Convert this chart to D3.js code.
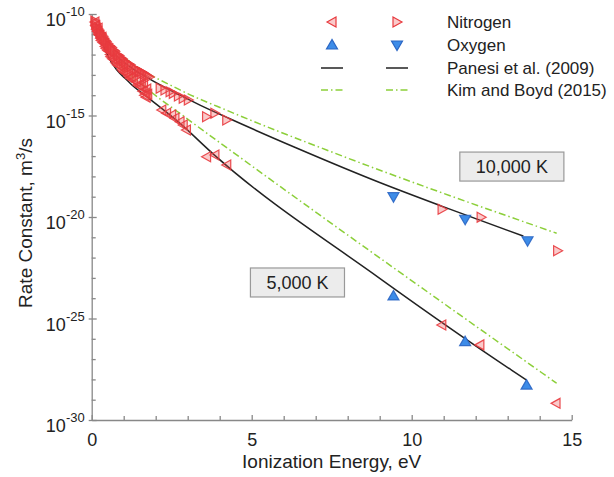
<!DOCTYPE html>
<html>
<head>
<meta charset="utf-8">
<script src="https://cdn.jsdelivr.net/npm/d3@7"></script>
<style>
    body { margin: 0; background: #fff; }
    svg { display: block; font-family: "Liberation Sans", Arial, Helvetica, sans-serif; }
</style>
</head>
<body>
<svg id="chart" width="614" height="477"></svg>
<script>
// --- Data: [ionization energy (eV), log10 rate constant (m^3/s)] ---
const nitrogen5000 = [
    [0.1, -10.4], [0.12, -10.55], [0.15, -10.75], [0.18, -10.85], [0.2, -10.7],
    [0.22, -11.0], [0.25, -11.05], [0.28, -11.2], [0.3, -11.3], [0.32, -11.15],
    [0.35, -11.4], [0.4, -11.45], [0.42, -11.6], [0.45, -11.7], [0.5, -11.8],
    [0.55, -11.85], [0.58, -12.0], [0.6, -12.1], [0.65, -12.2], [0.7, -12.25],
    [0.75, -12.4], [0.8, -12.5], [0.85, -12.55], [0.9, -12.6], [0.95, -12.75],
    [1.0, -12.85], [1.05, -12.9], [1.1, -12.95], [1.15, -13.05], [1.2, -13.15],
    [1.25, -13.1], [1.3, -13.25], [1.4, -13.35], [1.45, -13.5], [1.5, -13.55],
    [1.55, -13.6], [1.6, -13.8], [1.62, -13.4], [1.65, -14.0], [1.68, -13.9],
    [1.7, -14.1], [1.72, -13.7], [1.75, -13.95],
    [2.19, -14.73], [2.34, -14.89], [2.5, -14.98], [2.6, -15.14],
    [2.76, -15.31], [2.86, -15.47], [2.96, -15.71], [3.59, -17.03], [3.85, -16.95],
    [4.22, -17.44], [10.94, -25.32], [12.13, -26.3], [14.51, -29.18],
];
const nitrogen10000 = [
    [0.1, -10.35], [0.12, -10.45], [0.15, -10.6], [0.18, -10.7], [0.22, -10.8],
    [0.25, -10.9], [0.28, -10.95], [0.3, -11.0], [0.35, -11.1], [0.38, -11.2],
    [0.42, -11.3], [0.45, -11.35], [0.5, -11.45], [0.55, -11.55], [0.58, -11.6],
    [0.62, -11.65], [0.65, -11.75], [0.7, -11.8], [0.72, -11.85], [0.8, -12.0],
    [0.85, -12.05], [0.9, -12.15], [0.95, -12.2], [1.0, -12.3], [1.05, -12.35],
    [1.1, -12.45], [1.15, -12.45], [1.2, -12.5], [1.25, -12.6], [1.35, -12.7],
    [1.4, -12.75], [1.45, -12.8], [1.5, -12.85], [1.55, -12.85], [1.6, -12.9],
    [1.65, -12.95], [1.7, -13.0], [1.75, -13.05], [1.8, -13.1],
    [2.14, -13.66], [2.29, -13.74], [2.45, -13.83], [2.55, -13.91], [2.71, -14.04],
    [2.86, -14.15], [3.02, -14.24], [3.59, -15.06], [3.85, -14.89], [4.22, -15.22],
    [10.95, -19.62], [12.17, -20.01], [14.56, -21.66],
];
const oxygen5000 = [[9.43, -23.89], [11.67, -26.14], [13.59, -28.28]];
const oxygen10000 = [[9.43, -19.0], [11.67, -20.11], [13.62, -21.17]];

const panesi5000 = [
    [0.12, -10.5], [0.47, -11.94], [1.2, -13.41], [1.72, -14.07], [2.76, -15.39],
    [3.8, -16.9], [9.0, -23.02], [13.12, -27.54], [13.59, -28.03],
];
const panesi10000 = [
    [0.12, -10.45], [0.4, -11.3], [0.8, -12.1], [1.2, -12.6], [1.75, -13.15],
    [2.76, -14.0], [3.4, -14.5], [4.3, -15.15], [6.4, -16.6], [9.0, -18.3],
    [11.0, -19.5], [13.49, -20.94],
];
const kimBoyd5000 = [
    [0.15, -10.6], [0.6, -11.9], [1.72, -13.66], [2.76, -14.9], [4.32, -16.7],
    [14.53, -28.19],
];
const kimBoyd10000 = [
    [0.15, -10.55], [0.5, -11.4], [0.99, -12.1], [2.76, -13.74], [4.32, -14.81],
    [7.34, -16.7], [14.53, -20.8],
];

const xTickValues = d3.range(0, 16);
const xTickLabels = [0, 5, 10, 15];
const yTickExponents = d3.range(-30, -9);
const yLabelExponents = [-10, -15, -20, -25, -30];
const legendLabels = ["Nitrogen", "Oxygen", "Panesi et al. (2009)", "Kim and Boyd (2015)"];
const boxLabels = [
    { text: "10,000 K", e: 13.13, k: -17.54 },
    { text: "5,000 K", e: 6.43, k: -23.25 },
];

// --- Colours ---
const axisColor = "#888";
const textColor = "#222";
const redStroke = "#e83a3e";
const redFill = "#f05050";
const blueStroke = "#2b66c4";
const blueFill = "#3d8ce8";
const lineColor = "#222";
const greenColor = "#8ccf3a";

// --- Scales ---
const svg = d3.select("#chart");
const x = d3.scaleLinear().domain([0, 15]).range([91.7, 571.7]);
const y = d3.scaleLog().domain([1e-30, 1e-10]).range([420, 14]);
const px = (d) => x(d[0]);
const py = (d) => y(Math.pow(10, d[1]));

// --- Axes ---
const xAxis = svg
    .append("g")
    .attr("transform", `translate(0,${y(1e-30)})`)
    .call(
        d3
            .axisBottom(x)
            .tickValues(xTickValues)
            .tickSize(-4)
            .tickSizeOuter(0)
            .tickPadding(13)
            .tickFormat((d) => (xTickLabels.includes(d) ? d : "")),
    );

xAxis.selectAll(".tick line").filter((d) => xTickLabels.includes(d)).attr("y2", -5);

const yAxis = svg
    .append("g")
    .attr("transform", `translate(${x(0)},0)`)
    .call(
        d3
            .axisLeft(y)
            .tickValues(yTickExponents.map((e) => Math.pow(10, e)))
            .tickSize(-4)
            .tickSizeOuter(0)
            .tickFormat(""),
    );

yAxis
    .selectAll(".tick line")
    .filter((d) => yLabelExponents.includes(Math.round(Math.log10(d))))
    .attr("x1", -3)
    .attr("x2", 5);

svg.selectAll(".domain, .tick line")
    .attr("stroke", axisColor)
    .attr("stroke-width", 1.3);

xAxis.selectAll(".tick text")
    .attr("fill", textColor)
    .attr("font-size", 18)
    .attr("font-family", null);

// y tick labels as 10 with a superscript exponent
const yLabels = svg
    .append("g")
    .selectAll("text")
    .data(yLabelExponents)
    .enter()
    .append("text")
    .attr("x", x(0) - 7)
    .attr("y", (e) => y(Math.pow(10, e)) + 12)
    .attr("text-anchor", "end")
    .attr("fill", textColor)
    .attr("font-size", 18);

yLabels.append("tspan").text("10");
yLabels
    .append("tspan")
    .attr("dy", -10)
    .attr("font-size", 13)
    .text((e) => String(e));

// --- Axis titles ---
svg.append("text")
    .attr("x", (x(0) + x(15)) / 2)
    .attr("y", 468)
    .attr("text-anchor", "middle")
    .attr("fill", textColor)
    .attr("font-size", 19)
    .text("Ionization Energy, eV");

const yTitle = svg
    .append("text")
    .attr("transform", `translate(32,223) rotate(-90)`)
    .attr("text-anchor", "middle")
    .attr("fill", textColor)
    .attr("font-size", 19);
yTitle.append("tspan").text("Rate Constant, m");
yTitle.append("tspan").attr("dy", -7).attr("font-size", 13).text("3");
yTitle.append("tspan").attr("dy", 7).text("/s");

// --- Lines ---
const line = d3.line().x(px).y(py).curve(d3.curveMonotoneX);

const lineGroup = svg.append("g").attr("fill", "none");

[panesi5000, panesi10000].forEach((data) => {
    lineGroup.append("path")
        .attr("d", line(data))
        .attr("stroke", lineColor)
        .attr("stroke-width", 1.5);
});

[kimBoyd5000, kimBoyd10000].forEach((data) => {
    lineGroup.append("path")
        .attr("d", line(data))
        .attr("stroke", greenColor)
        .attr("stroke-width", 1.5)
        .attr("stroke-dasharray", "7,3,1.5,3");
});

// --- Markers ---
const triangles = {
    left: "M-5,0L4,-5L4,5Z",
    right: "M5,0L-4,-5L-4,5Z",
    up: "M0,-5.5L-5.5,4L5.5,4Z",
    down: "M0,5.5L-5.5,-4L5.5,-4Z",
};

function drawMarkers(data, shape, fill, stroke, fillOpacity) {
    svg.append("g")
        .selectAll("path")
        .data(data)
        .enter()
        .append("path")
        .attr("transform", (d) => `translate(${px(d)},${py(d)})`)
        .attr("d", triangles[shape])
        .attr("fill", fill)
        .attr("fill-opacity", fillOpacity)
        .attr("stroke", stroke)
        .attr("stroke-opacity", 0.9)
        .attr("stroke-width", 1.2);
}

drawMarkers(nitrogen5000, "left", redFill, redStroke, 0.3);
drawMarkers(nitrogen10000, "right", redFill, redStroke, 0.3);
drawMarkers(oxygen5000, "up", blueFill, blueStroke, 1);
drawMarkers(oxygen10000, "down", blueFill, blueStroke, 1);

// --- Temperature boxes ---
boxLabels.forEach((b) => {
    const g = svg.append("g");
    const t = g.append("text")
        .attr("x", x(b.e))
        .attr("y", py([b.e, b.k]) + 6)
        .attr("text-anchor", "middle")
        .attr("fill", textColor)
        .attr("font-size", 18)
        .text(b.text);
    const bb = t.node().getBBox();
    g.insert("rect", "text")
        .attr("x", bb.x - 16)
        .attr("y", bb.y - 5)
        .attr("width", bb.width + 32)
        .attr("height", bb.height + 9)
        .attr("fill", "#ececec")
        .attr("stroke", "#999")
        .attr("stroke-width", 1.2);
});

// --- Legend ---
const legendRowY = [22, 45, 68, 90];
const legendColX = [332, 397];
const legend = svg.append("g");

legend.append("path").attr("transform", `translate(${legendColX[0]},${legendRowY[0]})`)
    .attr("d", triangles.left).attr("fill", redFill).attr("fill-opacity", 0.3)
    .attr("stroke", redStroke).attr("stroke-width", 1.2);
legend.append("path").attr("transform", `translate(${legendColX[1]},${legendRowY[0]})`)
    .attr("d", triangles.right).attr("fill", redFill).attr("fill-opacity", 0.3)
    .attr("stroke", redStroke).attr("stroke-width", 1.2);
legend.append("path").attr("transform", `translate(${legendColX[0]},${legendRowY[1]})`)
    .attr("d", triangles.up).attr("fill", blueFill).attr("stroke", blueStroke).attr("stroke-width", 1.2);
legend.append("path").attr("transform", `translate(${legendColX[1]},${legendRowY[1]})`)
    .attr("d", triangles.down).attr("fill", blueFill).attr("stroke", blueStroke).attr("stroke-width", 1.2);

legendColX.forEach((cx) => {
    legend.append("line")
        .attr("x1", cx - 11).attr("x2", cx + 11)
        .attr("y1", legendRowY[2]).attr("y2", legendRowY[2])
        .attr("stroke", lineColor).attr("stroke-width", 1.5);
    legend.append("line")
        .attr("x1", cx - 11).attr("x2", cx + 11)
        .attr("y1", legendRowY[3]).attr("y2", legendRowY[3])
        .attr("stroke", greenColor).attr("stroke-width", 1.5)
        .attr("stroke-dasharray", "7,3,1.5,3");
});

legend.selectAll("text")
    .data(legendLabels)
    .enter()
    .append("text")
    .attr("x", 447)
    .attr("y", (d, i) => legendRowY[i] + 6)
    .attr("fill", textColor)
    .attr("font-size", 17)
    .text((d) => d);
</script>
</body>
</html>
